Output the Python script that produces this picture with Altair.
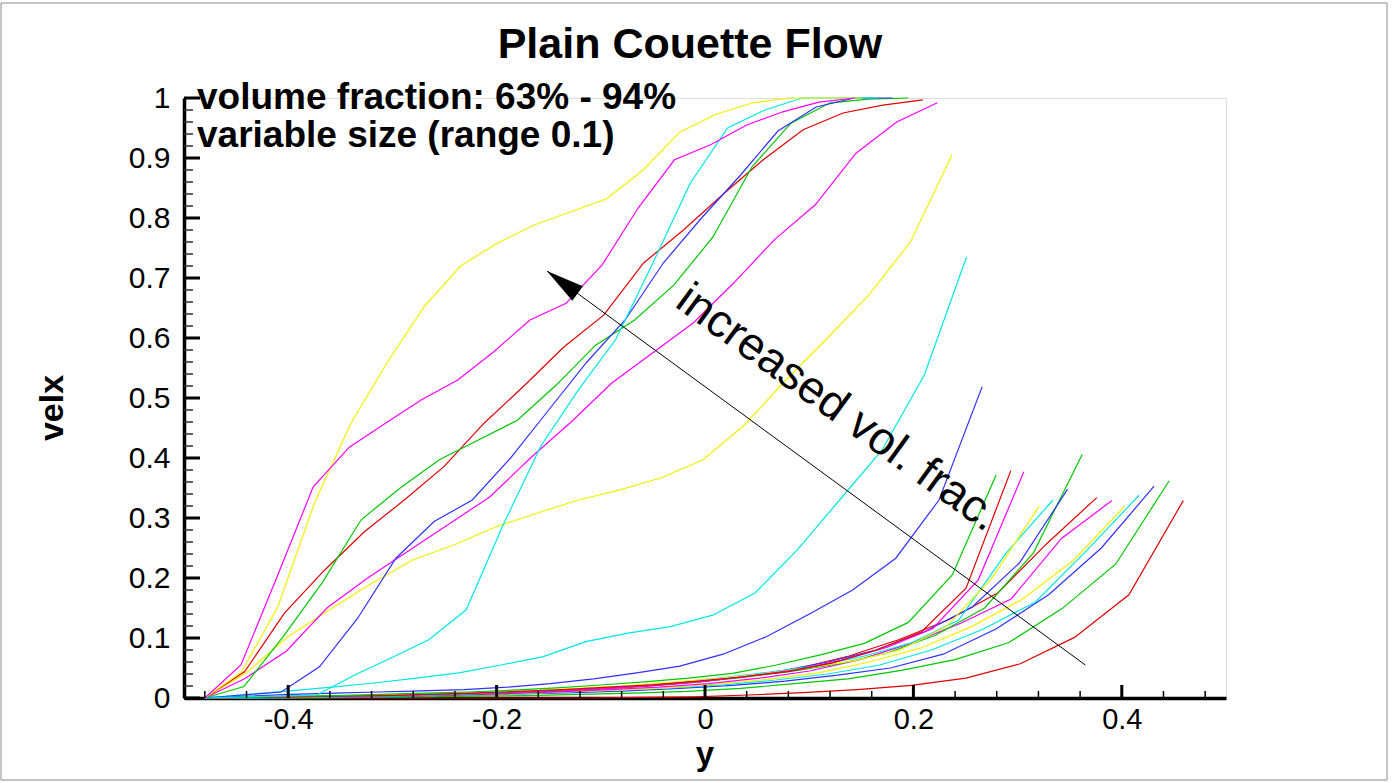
import altair as alt
import pandas as pd

# ---- data -------------------------------------------------------------------
COLORS = ["#e00000", "#00c800", "#3030ff", "#00e6e6", "#f2f200", "#ff00ff"]  # red, green, blue, cyan, yellow, magenta (cycle)

x_start = -0.48
# right end (y) of each profile, zone order
ends = [0.459, 0.4455, 0.431, 0.4167, 0.403, 0.3905, 0.376, 0.362, 0.348, 0.334,
        0.3207, 0.306, 0.2935, 0.2795, 0.266, 0.251, 0.237, 0.223, 0.209, 0.195,
        0.18, 0.165, 0.151, 0.144]

# velx values at the 19 sample points of each profile
v00 = [0, 0, 0, 0, 0, 0, 0, 0, 0.001, 0.002, 0.005, 0.009, 0.014, 0.021, 0.033, 0.057, 0.101, 0.172, 0.329]
v01 = [0, 0, 0, 0.001, 0.002, 0.003, 0.004, 0.006, 0.008, 0.011, 0.016, 0.024, 0.032, 0.046, 0.064, 0.092, 0.149, 0.223, 0.362]
v02 = [0, 0, 0.001, 0.002, 0.003, 0.005, 0.007, 0.009, 0.012, 0.016, 0.021, 0.028, 0.038, 0.05, 0.073, 0.115, 0.172, 0.25, 0.353]
v03 = [0, 0, 0.001, 0.002, 0.003, 0.005, 0.007, 0.01, 0.013, 0.017, 0.022, 0.03, 0.04, 0.055, 0.08, 0.115, 0.16, 0.247, 0.338]
v04 = [0, 0, 0.001, 0.002, 0.003, 0.005, 0.007, 0.01, 0.013, 0.017, 0.023, 0.031, 0.042, 0.06, 0.083, 0.119, 0.165, 0.23, 0.32]
v05 = [0, 0, 0.001, 0.002, 0.003, 0.005, 0.007, 0.01, 0.014, 0.018, 0.024, 0.033, 0.045, 0.064, 0.091, 0.1245, 0.165, 0.266, 0.329]
v06 = [0, 0, 0.001, 0.002, 0.003, 0.005, 0.008, 0.011, 0.015, 0.02, 0.027, 0.037, 0.05, 0.07, 0.097, 0.13, 0.175, 0.258, 0.334]
v07 = [0, 0, 0.001, 0.002, 0.003, 0.005, 0.008, 0.011, 0.015, 0.02, 0.026, 0.034, 0.044, 0.057, 0.075, 0.105, 0.15, 0.242, 0.406]
v08 = [0, 0, 0.001, 0.002, 0.003, 0.005, 0.008, 0.011, 0.015, 0.02, 0.026, 0.034, 0.045, 0.06, 0.08, 0.11, 0.151, 0.2255, 0.348]
v09 = [0, 0, 0.001, 0.002, 0.003, 0.005, 0.008, 0.011, 0.015, 0.02, 0.026, 0.034, 0.043, 0.054, 0.07, 0.092, 0.13, 0.241, 0.33]
v10 = [0, 0.001, 0.002, 0.003, 0.005, 0.007, 0.009, 0.012, 0.016, 0.02, 0.026, 0.032, 0.04, 0.05, 0.062, 0.08, 0.119, 0.202, 0.32]
v11 = [0, 0.001, 0.002, 0.003, 0.004, 0.006, 0.008, 0.01, 0.013, 0.017, 0.022, 0.028, 0.037, 0.047, 0.063, 0.0845, 0.116, 0.197, 0.377]
v12 = [0, 0.001, 0.002, 0.003, 0.004, 0.006, 0.008, 0.011, 0.014, 0.018, 0.022, 0.028, 0.035, 0.044, 0.058, 0.08, 0.11, 0.183, 0.379]
v13 = [0, 0.001, 0.003, 0.004, 0.006, 0.008, 0.01, 0.013, 0.017, 0.0217, 0.027, 0.033, 0.041, 0.055, 0.072, 0.091, 0.126, 0.205, 0.372]
v14 = [0, 0.003, 0.006, 0.008, 0.01, 0.012, 0.014, 0.018, 0.024, 0.032, 0.042, 0.053, 0.073, 0.102, 0.14, 0.18, 0.233, 0.33, 0.519]
v15 = [0, 0.006, 0.012, 0.018, 0.025, 0.033, 0.042, 0.055, 0.069, 0.094, 0.108, 0.119, 0.138, 0.175, 0.247, 0.33, 0.413, 0.538, 0.735]
v16 = [0, 0.042, 0.102, 0.147, 0.19, 0.23, 0.255, 0.285, 0.308, 0.33, 0.347, 0.367, 0.397, 0.455, 0.53, 0.6, 0.672, 0.76, 0.905]
v17 = [0, 0.033, 0.078, 0.15, 0.2, 0.245, 0.29, 0.335, 0.40, 0.46, 0.525, 0.575, 0.625, 0.692, 0.764, 0.822, 0.908, 0.96, 0.992]
v18 = [0, 0.044, 0.142, 0.213, 0.277, 0.33, 0.386, 0.458, 0.52, 0.585, 0.638, 0.725, 0.78, 0.84, 0.897, 0.947, 0.975, 0.988, 0.997]
v19 = [0, 0.019, 0.102, 0.192, 0.297, 0.35, 0.397, 0.43, 0.463, 0.522, 0.588, 0.63, 0.688, 0.768, 0.885, 0.958, 0.992, 0.998, 1.0]
v20 = [0, 0.005, 0.01, 0.052, 0.133, 0.233, 0.294, 0.33, 0.4, 0.48, 0.56, 0.63, 0.725, 0.8, 0.87, 0.945, 0.985, 1.0, 1.0]
v21 = [0, 0.002, 0.003, 0.005, 0.038, 0.067, 0.097, 0.147, 0.29, 0.42, 0.513, 0.597, 0.725, 0.858, 0.95, 0.98, 1.0, 1.0, 1.0]
v22 = [0, 0.043, 0.152, 0.325, 0.458, 0.56, 0.652, 0.72, 0.758, 0.788, 0.81, 0.832, 0.88, 0.943, 0.973, 0.992, 1.0, 1.0, 1.0]
v23 = [0, 0.055, 0.202, 0.352, 0.418, 0.458, 0.497, 0.53, 0.577, 0.63, 0.658, 0.722, 0.817, 0.897, 0.922, 0.955, 0.977, 0.993, 1.0]
profiles = [v00, v01, v02, v03, v04, v05, v06, v07, v08, v09, v10, v11,
            v12, v13, v14, v15, v16, v17, v18, v19, v20, v21, v22, v23]

x_major = [-0.4, -0.2, 0, 0.2, 0.4]
x_minor = [-0.48, -0.44, -0.36, -0.32, -0.28, -0.24, -0.16, -0.12, -0.08, -0.04,
           0.04, 0.08, 0.12, 0.16, 0.24, 0.28, 0.32, 0.36, 0.44, 0.48]
y_major = [0, 0.1, 0.2, 0.3, 0.4, 0.5, 0.6, 0.7, 0.8, 0.9, 1]
y_minor = [0.02, 0.04, 0.06, 0.08, 0.12, 0.14, 0.16, 0.18, 0.22, 0.24, 0.26, 0.28,
           0.32, 0.34, 0.36, 0.38, 0.42, 0.44, 0.46, 0.48, 0.52, 0.54, 0.56, 0.58,
           0.62, 0.64, 0.66, 0.68, 0.72, 0.74, 0.76, 0.78, 0.82, 0.84, 0.86, 0.88,
           0.92, 0.94, 0.96, 0.98]

arrow_tail = (0.365, 0.055)
arrow_tip = (-0.1517, 0.7117)

title_text = "Plain Couette Flow"
note_lines = ["volume fraction: 63% - 94%", "variable size (range 0.1)"]
arrow_label = "increased vol. frac."
FONT = "Liberation Sans"

# ---- tables ------------------------------------------------------------------
rows = []
for i, (e, vals) in enumerate(zip(ends, profiles)):
    n = len(vals)
    for k, v in enumerate(vals):
        rows.append({"x": x_start + k * (e - x_start) / (n - 1), "v": v,
                     "s": f"z{i:02d}", "c": COLORS[i % 6]})
df = pd.DataFrame(rows)

xs = alt.Scale(domain=[-0.5, 0.5], nice=False, zero=False)
ys = alt.Scale(domain=[0, 1], nice=False, zero=False)

xaxis = alt.Axis(values=x_major, labelExpr="datum.value + ''", title=None, ticks=False,
                 tickSize=0, domainColor="black", domainWidth=3.5, grid=False,
                 labelFont=FONT, labelFontSize=29, labelColor="black", labelPadding=7,
                 labelOverlap=False, labelFlush=False, labelBound=False)
yaxis = alt.Axis(values=y_major, labelExpr="datum.value + ''", title=None, ticks=False,
                 tickSize=0, domainColor="black", domainWidth=3.5, grid=False,
                 labelFont=FONT, labelFontSize=30, labelColor="black", labelPadding=14,
                 labelOverlap=False, labelFlush=False, labelBound=False)

lines = alt.Chart(df).mark_line(strokeWidth=1.2).encode(
    x=alt.X("x:Q", scale=xs, axis=xaxis),
    y=alt.Y("v:Q", scale=ys, axis=yaxis),
    color=alt.Color("c:N", scale=None),
    detail="s:N",
)

xt_major = alt.Chart(pd.DataFrame({"x": x_major})).mark_rule(color="black", strokeWidth=3).encode(
    x=alt.X("x:Q", scale=xs, axis=xaxis), y=alt.value(600), y2=alt.value(587))
xt_minor = alt.Chart(pd.DataFrame({"x": x_minor})).mark_rule(color="black", strokeWidth=1.5).encode(
    x=alt.X("x:Q", scale=xs, axis=xaxis), y=alt.value(600), y2=alt.value(593))
yt_major = alt.Chart(pd.DataFrame({"v": y_major})).mark_rule(color="black", strokeWidth=3).encode(
    y=alt.Y("v:Q", scale=ys, axis=yaxis), x=alt.value(0), x2=alt.value(16))
yt_minor = alt.Chart(pd.DataFrame({"v": y_minor})).mark_rule(color="#333333", strokeWidth=1.5).encode(
    y=alt.Y("v:Q", scale=ys, axis=yaxis), x=alt.value(0), x2=alt.value(9))

adf = pd.DataFrame({"x": [arrow_tail[0]], "v": [arrow_tail[1]],
                    "x2": [arrow_tip[0]], "v2": [arrow_tip[1]]})
arrow_line = alt.Chart(adf).mark_rule(color="black", strokeWidth=1).encode(
    x=alt.X("x:Q", scale=xs, axis=xaxis), y=alt.Y("v:Q", scale=ys, axis=yaxis),
    x2="x2:Q", y2="v2:Q")
hdf = pd.DataFrame({"x": [arrow_tip[0]], "v": [arrow_tip[1]]})
arrow_head = alt.Chart(hdf).mark_point(
    shape="M0,0L0.47,2L-0.47,2Z", filled=True, color="black", opacity=1,
    size=38 * 38, angle=306.2, strokeWidth=0).encode(
    x=alt.X("x:Q", scale=xs, axis=xaxis), y=alt.Y("v:Q", scale=ys, axis=yaxis))

one = pd.DataFrame({"a": [0]})
frame = alt.Chart(one).mark_rect(fillOpacity=0, stroke="#8a8a8a", strokeWidth=1).encode(
    x=alt.value(-183), x2=alt.value(1203), y=alt.value(-95), y2=alt.value(682))

title = alt.Chart(one).mark_text(text=title_text, font=FONT, fontSize=43, fontWeight="bold",
                                 align="center", baseline="alphabetic", color="black").encode(
    x=alt.value(506), y=alt.value(-40))
note1 = alt.Chart(one).mark_text(text=note_lines[0], font=FONT, fontSize=37, fontWeight="bold",
                                 align="left", baseline="alphabetic", color="black").encode(
    x=alt.value(13), y=alt.value(11))
note2 = alt.Chart(one).mark_text(text=note_lines[1], font=FONT, fontSize=37, fontWeight="bold",
                                 align="left", baseline="alphabetic", color="black").encode(
    x=alt.value(13), y=alt.value(49))
ylab = alt.Chart(one).mark_text(text="velx", font=FONT, fontSize=34, fontWeight="bold",
                                align="center", baseline="alphabetic", angle=270, color="black").encode(
    x=alt.value(-121), y=alt.value(310))
xlab = alt.Chart(one).mark_text(text="y", font=FONT, fontSize=33, fontWeight="bold",
                                align="center", baseline="alphabetic", color="black").encode(
    x=alt.value(521), y=alt.value(667))
alab = alt.Chart(one).mark_text(text=arrow_label, font=FONT, fontSize=46,
                                align="center", baseline="middle", angle=36, color="black").encode(
    x=alt.value(654), y=alt.value(310))

chart = alt.layer(
    frame, lines, xt_major, xt_minor, yt_major, yt_minor,
    arrow_line, arrow_head, title, note1, note2, ylab, xlab, alab
).properties(
    width=1042, height=600,
    padding={"left": 184, "top": 98, "right": 167, "bottom": 85},
    autosize=alt.AutoSizeParams(type="none"),
).configure_view(stroke=None).configure(background="white")

chart.save("out.html", embed_options={"renderer": "svg", "actions": False})
